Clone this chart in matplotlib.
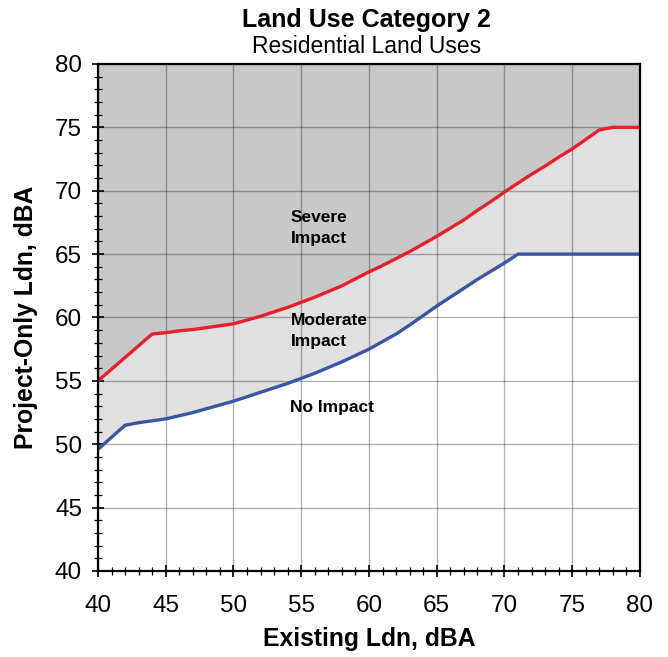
import matplotlib
matplotlib.use("Agg")
import matplotlib.pyplot as plt
import numpy as np

plt.rcParams['font.family'] = ['Liberation Sans', 'DejaVu Sans']

# Severe impact threshold (red)
severe_x = [40, 44, 45, 46, 47, 48, 49, 50, 51, 52, 53, 54, 55, 56, 57, 58, 59, 60,
            61, 62, 63, 64, 65, 66, 67, 68, 69, 70, 71, 72, 73, 74, 75, 76, 77, 78, 80]
severe_y = [55.0, 58.7, 58.8, 58.95, 59.05, 59.2, 59.35, 59.5, 59.8, 60.1, 60.45, 60.8,
            61.2, 61.6, 62.05, 62.5, 63.05, 63.6, 64.1, 64.65, 65.2, 65.8, 66.4, 67.05,
            67.7, 68.45, 69.15, 69.9, 70.6, 71.3, 71.95, 72.65, 73.3, 74.05, 74.8, 75.0, 75.0]

# Moderate impact threshold (blue)
moderate_x = [40, 42, 43, 44, 45, 46, 47, 48, 49, 50, 51, 52, 53, 54, 55, 56, 57, 58, 59,
              60, 61, 62, 63, 64, 65, 66, 67, 68, 69, 70, 71, 80]
moderate_y = [49.6, 51.5, 51.7, 51.85, 52.0, 52.25, 52.5, 52.8, 53.1, 53.4, 53.75, 54.1,
              54.45, 54.8, 55.2, 55.6, 56.05, 56.5, 57.0, 57.5, 58.1, 58.7, 59.4, 60.15,
              60.9, 61.6, 62.3, 63.0, 63.65, 64.3, 65.0, 65.0]

x_ticks = [40, 45, 50, 55, 60, 65, 70, 75, 80]
y_ticks = [40, 45, 50, 55, 60, 65, 70, 75, 80]

region_labels = ["Severe\nImpact", "Moderate\nImpact", "No Impact"]
region_label_y = [67.1, 58.9, 52.9]
region_label_x = 54.2

fig = plt.figure(figsize=(6.68, 6.57), dpi=100)
ax = fig.add_axes([0.1467, 0.1309, 0.8113, 0.7717])

ax.set_xlim(40, 80)
ax.set_ylim(40, 80)

# fills
ax.fill_between(severe_x, severe_y, 80, color='#c8c8c8', lw=0, zorder=0)
grid_x = np.union1d(severe_x, moderate_x)
sev_i = np.interp(grid_x, severe_x, severe_y)
mod_i = np.interp(grid_x, moderate_x, moderate_y)
ax.fill_between(grid_x, mod_i, sev_i, color='#e0e0e0', lw=0, zorder=0)

ax.set_xticks(x_ticks)
ax.set_yticks(y_ticks)
ax.set_xticks(np.arange(40, 81, 1), minor=True)
ax.set_yticks(np.arange(40, 81, 1), minor=True)
ax.grid(True, which='major', color='black', alpha=0.3, lw=1.0, zorder=1)
ax.set_axisbelow(False)

ax.plot(severe_x, severe_y, color='#e8202a', lw=2.4, zorder=3, solid_joinstyle='round')
ax.plot(moderate_x, moderate_y, color='#3a55a4', lw=2.4, zorder=3, solid_joinstyle='round')

for lab, yy in zip(region_labels, region_label_y):
    ax.text(region_label_x, yy, lab, fontsize=12.5, fontweight='bold',
            ha='left', va='center', linespacing=1.5, zorder=4)

for s in ax.spines.values():
    s.set_linewidth(1.6)
    s.set_color('black')
    s.set_zorder(5)

ax.tick_params(axis='x', which='major', direction='inout', length=9, width=1.2, labelsize=17.5, pad=13)
ax.tick_params(axis='y', which='major', direction='inout', length=9, width=1.2, labelsize=17.5, pad=7)
ax.tick_params(which='minor', direction='inout', length=6, width=0.9)

ax.set_xlabel('Existing Ldn, dBA', fontsize=17.8, fontweight='bold', labelpad=7)
ax.set_ylabel('Project-Only Ldn, dBA', fontsize=17.8, fontweight='bold', labelpad=12)

fig.text(0.549, 0.970, 'Land Use Category 2', fontsize=18, fontweight='bold', ha='center', va='center')
fig.text(0.549, 0.929, 'Residential Land Uses', fontsize=16.5, ha='center', va='center')

fig.savefig('out.png', dpi=100)
